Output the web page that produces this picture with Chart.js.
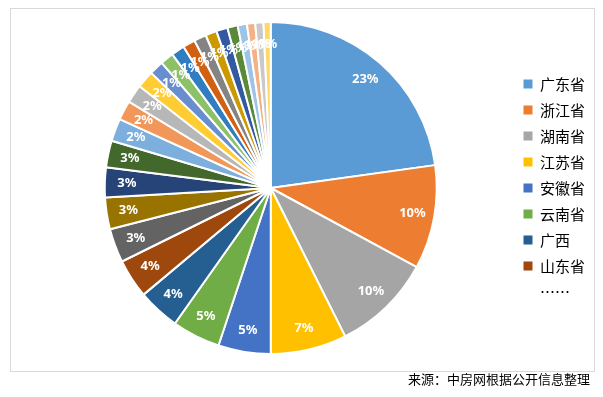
<!DOCTYPE html>
<html>
<head>
<meta charset="utf-8">
<script src="https://cdn.jsdelivr.net/npm/chart.js@4/dist/chart.umd.min.js"></script>
<style>
  body { margin: 0; background: #fff; width: 603px; height: 397px; position: relative; overflow: hidden; }
  .frame { position: absolute; left: 10px; top: 8px; width: 583px; height: 362px; border: 1px solid #d9d9d9; }
  #wrap { position: absolute; left: 0; top: 0; width: 603px; height: 397px; }
  .source { position: absolute; right: 13px; top: 369px; font: 13px "Noto Sans CJK SC", sans-serif; color: #000; }
</style>
</head>
<body>
<div class="frame"></div>
<div id="wrap"><canvas id="pie" width="603" height="397"></canvas></div>
<div class="source">来源：中房网根据公开信息整理</div>
<script>
// 各省份占比（%），顺时针从 12 点开始
const provinces = ['广东省', '浙江省', '湖南省', '江苏省', '安徽省', '云南省', '广西', '山东省'];
const otherCount = 20; // 图例未列出的其余省份
const labels = provinces.concat(Array(otherCount).fill(''));
const shares = [
  22.8, 10.1, 9.7, 7.4, 5.1, 4.7, 4.1, 3.8,
  3.3, 3.1, 2.9, 2.6, 2.2, 1.9, 1.8, 1.7,
  1.4, 1.3, 1.3, 1.2, 1.2, 1.1, 1.1, 1.0,
  0.9, 0.8, 0.8, 0.7,
];
const colors = [
  '#5B9BD5', '#ED7D31', '#A5A5A5', '#FFC000', '#4472C4', '#70AD47',
  '#255E91', '#9E480E', '#636363', '#997300', '#264478', '#43682B',
  '#7CAFDD', '#F1975A', '#B7B7B7', '#FFCD33', '#698ED0', '#8CC168',
  '#327DC2', '#D26012', '#848484', '#CC9A00', '#335AA1', '#5A8A39',
  '#9DC3E6', '#F4B183', '#C9C9C9', '#FFD966',
];

// 扇区内百分比标签
const pctLabels = {
  id: 'pctLabels',
  afterDatasetsDraw(chart) {
    const { ctx } = chart;
    const total = shares.reduce((a, b) => a + b, 0);
    ctx.save();
    ctx.font = 'bold 13px "Noto Sans", sans-serif';
    ctx.fillStyle = '#fff';
    ctx.textAlign = 'center';
    ctx.textBaseline = 'middle';
    chart.getDatasetMeta(0).data.forEach((arc, i) => {
      const { x, y, startAngle, endAngle, outerRadius } =
        arc.getProps(['x', 'y', 'startAngle', 'endAngle', 'outerRadius'], true);
      const mid = (startAngle + endAngle) / 2;
      const r = outerRadius - 22;
      ctx.fillText(Math.round((shares[i] / total) * 100) + '%', x + Math.cos(mid) * r, y + Math.sin(mid) * r);
    });
    ctx.restore();
  },
};

new Chart(document.getElementById('pie'), {
  type: 'pie',
  data: {
    labels,
    datasets: [{
      data: shares,
      backgroundColor: colors,
      borderColor: '#fff',
      borderWidth: 2,
    }],
  },
  options: {
    responsive: false,
    animation: false,
    layout: { padding: { top: 21, bottom: 42, left: 29, right: 8 } },
    plugins: {
      tooltip: { enabled: false },
      legend: {
        position: 'right',
        onClick: null,
        labels: {
          boxWidth: 9,
          boxHeight: 9,
          padding: 11,
          color: '#595959',
          font: { family: "'Noto Sans CJK SC', sans-serif", size: 15 },
          generateLabels: (chart) => {
            const items = provinces.map((p, i) => ({
              text: p,
              fillStyle: colors[i],
              strokeStyle: colors[i],
              lineWidth: 0,
              index: i,
            }));
            items.push({ text: '……', fillStyle: 'rgba(0,0,0,0)', strokeStyle: 'rgba(0,0,0,0)', lineWidth: 0 });
            return items;
          },
        },
      },
    },
  },
  plugins: [pctLabels],
});
</script>
</body>
</html>
